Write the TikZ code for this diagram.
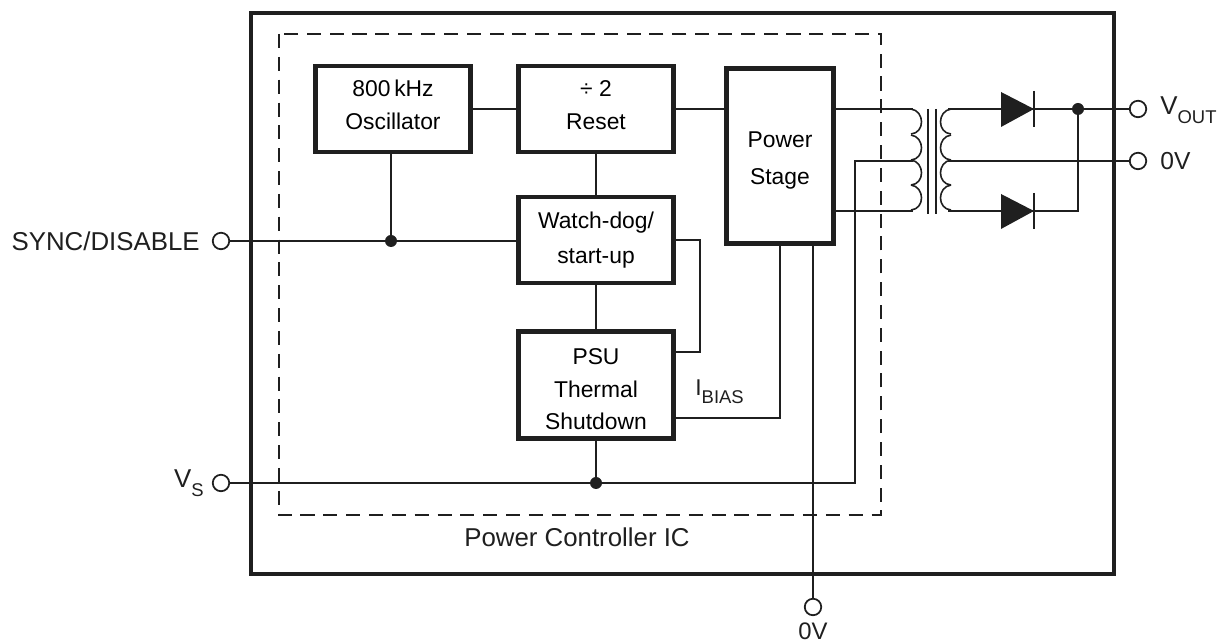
\documentclass[tikz,border=0pt]{standalone}
\usepackage{fontspec}
\setmainfont{Liberation Sans}
\usetikzlibrary{positioning}
\colorlet{inkc}{black!88}
\def\subtxt#1{\raisebox{-0.35em}{\fontsize{10.5}{12}\selectfont #1}}
\def\uptxt{\rule[-4.6pt]{0pt}{0pt}}
\def\downtxt#1{\rule{0pt}{#1}}
\tikzset{
  blockbox/.style={draw=inkc,line width=2.4pt,fill=white,align=center,inner sep=0pt,font=\fontsize{13}{18.7}\selectfont},
  wire/.style={draw=inkc,line width=1.1pt},
  term/.style={circle,draw=inkc,line width=1pt,fill=white,inner sep=0pt,minimum size=0.33cm},
  junc/.style={circle,fill=inkc,inner sep=0pt,minimum size=0.24cm},
  lbl/.style={inkc,inner sep=0pt,font=\fontsize{14.7}{17}\selectfont}
}
\begin{document}
\begin{tikzpicture}[x=0.02cm,y=-0.02cm]
\useasboundingbox (0,0) rectangle (1228,644);
% frames
\draw [draw=inkc,line width=2.4pt] (251,13) rectangle (1114,574);
\draw [draw=inkc,line width=1.1pt,dash pattern=on 8pt off 5pt] (279,34) rectangle (881,515);
% blocks
\node [blockbox,minimum width=3.1cm,minimum height=1.72cm] (osc) at (393,109) {800\,kHz\\Oscillator\uptxt};
\node [blockbox,minimum width=3.1cm,minimum height=1.72cm] (reset) at (596,109) {÷ 2\\Reset\uptxt};
\node [blockbox,minimum width=2.14cm,minimum height=3.5cm] (stage) at (780,156) {\downtxt{14.3pt}Power\\[2.3pt]Stage};
\node [blockbox,minimum width=3.1cm,minimum height=1.72cm] (watch) at (596,240) {Watch-dog/\\[1pt]start-up};
\node [blockbox,minimum width=3.1cm,minimum height=2.14cm] (psu) at (596,385) {\downtxt{13.9pt}PSU\\Thermal\\Shutdown};
% terminals
\node [term] (sync) at (221,241) {};
\node [term] (vs) at (221,483) {};
\node [term] (vout) at (1138,109) {};
\node [term] (zero) at (1138,161) {};
\node [term] (gnd) at (813,607) {};
% joins
\node [junc] (jsync) at (391,241) {};
\node [junc] (jvs) at (596,483) {};
\node [junc] (jout) at (1078,109) {};
\coordinate (pria) at (913,109);
\coordinate (prib) at (913,161);
\coordinate (pric) at (913,211);
\coordinate (seca) at (948,109);
\coordinate (secb) at (948,161);
\coordinate (secc) at (948,211);
\coordinate (dioa) at (1034,109);
\coordinate (diob) at (1034,211);
% connections
\draw [wire] (osc) -- (reset);
\draw [wire] (reset) -- (reset -| stage.west);
\draw [wire] (reset) -- (watch);
\draw [wire] (watch) -- (psu);
\draw [wire] (sync) -- (jsync) -- (watch.west |- jsync);
\draw [wire] (osc.south -| jsync) -- (jsync);
\draw [wire] (watch.east) -- +(24,0) |- (psu.east |- 0,352);
\draw [wire] (psu.east |- 0,418) -| (stage.south);
\draw [wire] (stage.south -| gnd) -- (gnd);
\draw [wire] (vs) -- (jvs) -- (855,483) |- (prib);
\draw [wire] (psu) -- (jvs);
\draw [wire] (stage.east |- pria) -- (pria);
\draw [wire] (stage.east |- pric) -- (pric);
\draw [wire] (seca) -- (dioa) -- (jout) -- (vout);
\draw [wire] (secb) -- (zero);
\draw [wire] (secc) -- (diob) -| (jout);
% transformer
\foreach \y in {109,135,160,185} {
  \draw [wire,line width=0.9pt] (911,\y) .. controls (925,\y+2) and (925,\y+24) .. (911,\y+25);
  \draw [wire,line width=0.9pt] (951,\y) .. controls (937,\y+2) and (937,\y+24) .. (951,\y+25);
}
\draw [wire] (928,109) -- (928,214);
\draw [wire] (936,109) -- (936,214);
% diodes
\foreach \d in {dioa,diob} {
  \fill [inkc] (\d) ++(-33,-17) -- (\d) -- ++(-33,18) -- cycle;
  \draw [wire] (\d) ++(0,-18) -- ++(0,36);
}
% labels
\node [lbl,anchor=east] (tsync) at (200,241) {SYNC/DISABLE};
\node [lbl,anchor=east] (tvs) at (204,483) {V\subtxt{S}};
\node [lbl,anchor=west] (tvout) at (1160,110) {V\subtxt{OUT}};
\node [lbl,anchor=west,font=\fontsize{14}{17}\selectfont] (tzero) at (1160,161) {0V};
\node [lbl,font=\fontsize{13.6}{16}\selectfont] (tgnd) at (813,631) {0V};
\node [lbl] (tic) at (577,537) {Power Controller IC};
\node [lbl,anchor=west,font=\fontsize{13}{16}\selectfont] (tbias) at (695,392) {I\subtxt{BIAS}};
\end{tikzpicture}
\end{document}
